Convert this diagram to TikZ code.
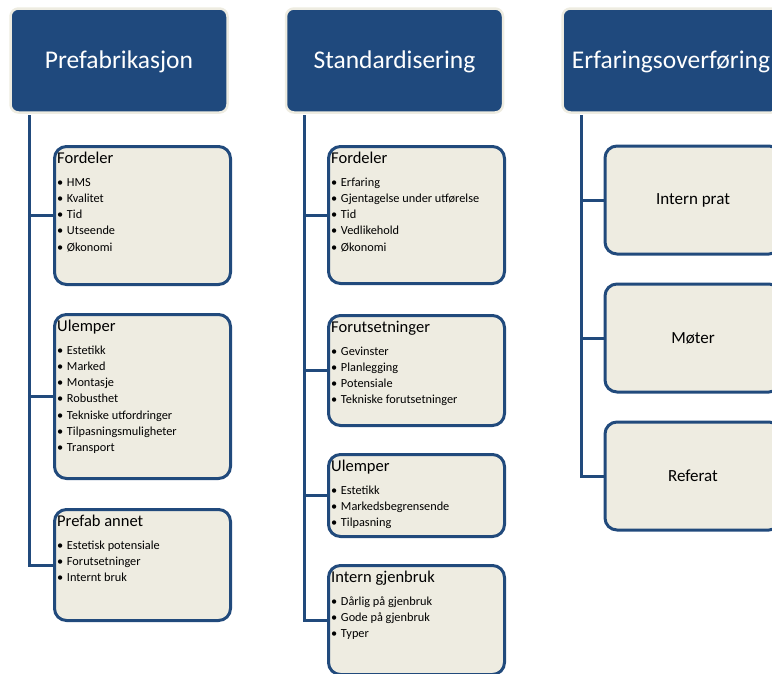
\documentclass[tikz,border=0pt]{standalone}
\usepackage{fontspec}
\setmainfont{Carlito}
\definecolor{hdrblue}{RGB}{31,73,125}
\definecolor{boxblue}{RGB}{33,74,124}
\definecolor{boxfill}{RGB}{238,236,225}
\definecolor{hdrrim}{RGB}{238,236,225}
\tikzset{
  head/.style={rectangle, rounded corners=8pt, fill=hdrblue, draw=hdrrim,
    line width=2.5pt, minimum width=217pt, minimum height=104pt,
    text height=18pt, text depth=1.5pt,
    text=white, font=\fontsize{25.5}{30}\selectfont},
  sub/.style={rectangle, rounded corners=12pt, fill=boxfill, draw=boxblue,
    line width=3pt, minimum width=176pt, font=\fontsize{17}{20}\selectfont},
  link/.style={draw=boxblue, line width=3pt},
  boxtitle/.style={anchor=base west, inner sep=0pt, font=\fontsize{16.5}{20}\selectfont},
  boxitem/.style={anchor=base west, inner sep=0pt, font=\fontsize{12.3}{14}\selectfont},
}
\begin{document}
\begin{tikzpicture}[x=1pt,y=-1pt]
  \useasboundingbox (0,0) rectangle (772,673);
  \clip (0,0) rectangle (772,673);
  % headers
  \node[head] (h1) at (119,60.5) {Prefabrikasjon};
  \node[head] (h2) at (394.5,60.5) {Standardisering};
  \node[head] (h3) at (671,60.5) {Erfaringsoverføring};
  % Prefabrikasjon
  \node[sub, minimum height=138pt] (c11) at (142.5,215.5) {};
  \node[sub, minimum height=164pt] (c12) at (142.5,396.5) {};
  \node[sub, minimum height=111pt] (c13) at (142.5,565) {};
  \node[boxtitle] (c11t) at ([xshift=4pt,yshift=-18.5pt]c11.north west) {Fordeler};
  \foreach \w [count=\i] in {HMS,Kvalitet,Tid,Utseende,Økonomi}
    \node[boxitem] (c11-\i) at ([xshift=3.8pt,yshift={-41pt-16.3pt*(\i-1)}]c11.north west)
      {\makebox[10pt][l]{\textbullet}\w};
  \node[boxtitle] (c12t) at ([xshift=4pt,yshift=-18.5pt]c12.north west) {Ulemper};
  \foreach \w [count=\i] in {Estetikk,Marked,Montasje,Robusthet,Tekniske utfordringer,Tilpasningsmuligheter,Transport}
    \node[boxitem] (c12-\i) at ([xshift=3.8pt,yshift={-41pt-16.3pt*(\i-1)}]c12.north west)
      {\makebox[10pt][l]{\textbullet}\w};
  \node[boxtitle] (c13t) at ([xshift=4pt,yshift=-18.5pt]c13.north west) {Prefab annet};
  \foreach \w [count=\i] in {Estetisk potensiale,Forutsetninger,Internt bruk}
    \node[boxitem] (c13-\i) at ([xshift=3.8pt,yshift={-41pt-16.3pt*(\i-1)}]c13.north west)
      {\makebox[10pt][l]{\textbullet}\w};
  % Standardisering
  \node[sub, minimum height=137pt] (c21) at (416.5,215) {};
  \node[sub, minimum height=110pt] (c22) at (416.5,370.5) {};
  \node[sub, minimum height=82pt] (c23) at (416.5,495.5) {};
  \node[sub, minimum height=109pt] (c24) at (416.5,620) {};
  \node[boxtitle] (c21t) at ([xshift=4pt,yshift=-18.5pt]c21.north west) {Fordeler};
  \foreach \w [count=\i] in {Erfaring,Gjentagelse under utførelse,Tid,Vedlikehold,Økonomi}
    \node[boxitem] (c21-\i) at ([xshift=3.8pt,yshift={-41pt-16.3pt*(\i-1)}]c21.north west)
      {\makebox[10pt][l]{\textbullet}\w};
  \node[boxtitle] (c22t) at ([xshift=4pt,yshift=-18.5pt]c22.north west) {Forutsetninger};
  \foreach \w [count=\i] in {Gevinster,Planlegging,Potensiale,Tekniske forutsetninger}
    \node[boxitem] (c22-\i) at ([xshift=3.8pt,yshift={-41pt-16.3pt*(\i-1)}]c22.north west)
      {\makebox[10pt][l]{\textbullet}\w};
  \node[boxtitle] (c23t) at ([xshift=4pt,yshift=-18.5pt]c23.north west) {Ulemper};
  \foreach \w [count=\i] in {Estetikk,Markedsbegrensende,Tilpasning}
    \node[boxitem] (c23-\i) at ([xshift=3.8pt,yshift={-41pt-16.3pt*(\i-1)}]c23.north west)
      {\makebox[10pt][l]{\textbullet}\w};
  \node[boxtitle] (c24t) at ([xshift=4pt,yshift=-18.5pt]c24.north west) {Intern gjenbruk};
  \foreach \w [count=\i] in {Dårlig på gjenbruk,Gode på gjenbruk,Typer}
    \node[boxitem] (c24-\i) at ([xshift=3.8pt,yshift={-41pt-16.3pt*(\i-1)}]c24.north west)
      {\makebox[10pt][l]{\textbullet}\w};
  % Erfaringsoverføring
  \node[sub, minimum height=108pt] (c31) at (693,200) {Intern prat};
  \node[sub, minimum height=108pt] (c32) at (693,338) {Møter};
  \node[sub, minimum height=108pt] (c33) at (693,476) {Referat};
  % spines
  \coordinate (s1) at ([xshift=20pt,yshift=-1.3pt]h1.south west);
  \coordinate (s2) at ([xshift=20pt,yshift=-1.3pt]h2.south west);
  \coordinate (s3) at ([xshift=20pt,yshift=-1.3pt]h3.south west);
  \draw[link] (s1) |- (c13.west);
  \draw[link] (c11.west) -- (c11.west -| s1);
  \draw[link] (c12.west) -- (c12.west -| s1);
  \draw[link] (s2) |- (c24.west);
  \draw[link] (c21.west) -- (c21.west -| s2);
  \draw[link] (c22.west) -- (c22.west -| s2);
  \draw[link] (c23.west) -- (c23.west -| s2);
  \draw[link] (s3) |- (c33.west);
  \draw[link] (c31.west) -- (c31.west -| s3);
  \draw[link] (c32.west) -- (c32.west -| s3);
\end{tikzpicture}
\end{document}
